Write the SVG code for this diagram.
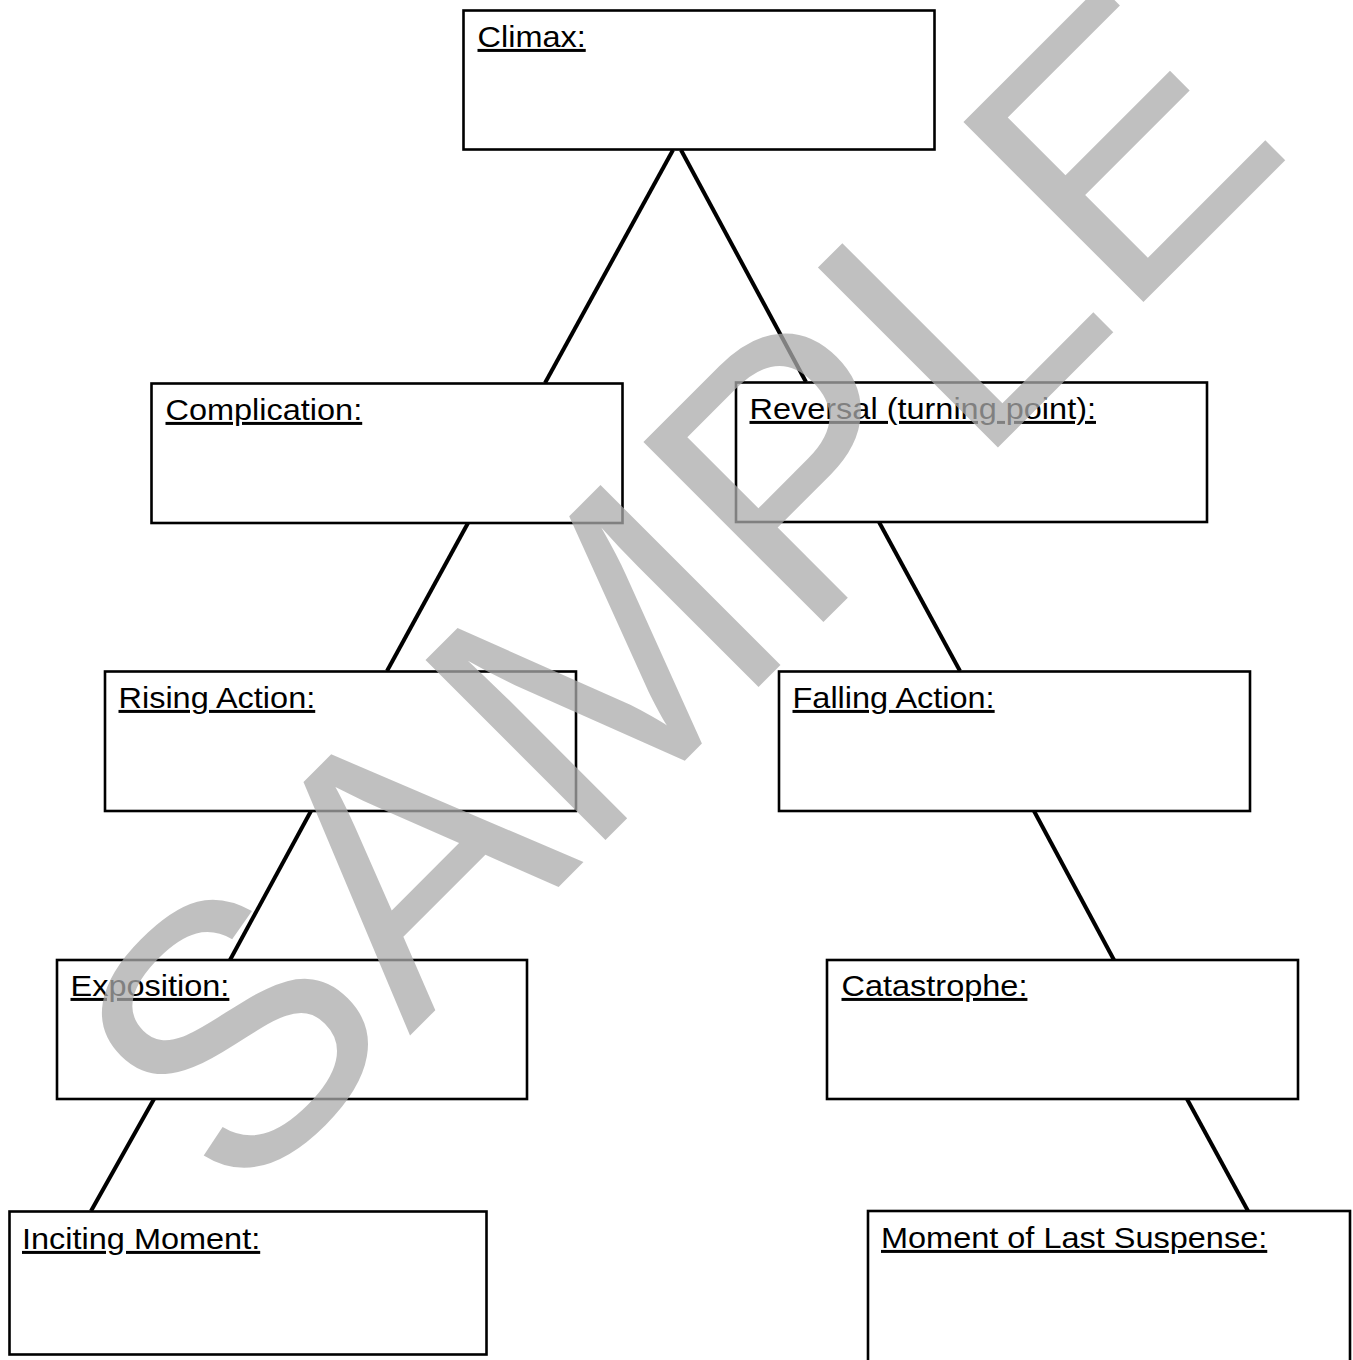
<svg xmlns="http://www.w3.org/2000/svg" width="1353" height="1360" viewBox="0 0 1353 1360">
<style>
.box rect{fill:#ffffff;stroke:#000000;stroke-width:2.6}
.box text{font-family:"Liberation Sans",Arial,sans-serif;font-size:30px;fill:#000000;text-decoration:underline;text-decoration-skip-ink:none}
#connectors line{stroke:#000000;stroke-width:4;stroke-linecap:butt}
.wm{font-family:"Liberation Sans",Arial,sans-serif;font-size:370px;fill:#ababab;fill-opacity:0.75}
</style>
<rect x="0" y="0" width="1353" height="1360" fill="#ffffff"/>
<g id="connectors">
<line x1="673" y1="150" x2="545" y2="383"/>
<line x1="681" y1="150" x2="806" y2="382"/>
<line x1="468" y1="523" x2="387" y2="671"/>
<line x1="879" y1="522" x2="960" y2="671"/>
<line x1="311" y1="811" x2="230" y2="960"/>
<line x1="1034" y1="811" x2="1114" y2="960"/>
<line x1="154" y1="1099" x2="91" y2="1211"/>
<line x1="1187" y1="1099" x2="1248" y2="1211"/>
</g>
<g id="climax" class="box"><rect x="463.5" y="10.5" width="471" height="139"/><text transform="matrix(1.083 0 0 1 477.5 47)">Climax:</text></g>
<g id="complication" class="box"><rect x="151.5" y="383.5" width="471" height="139.5"/><text transform="matrix(1.083 0 0 1 165.5 420)">Complication:</text></g>
<g id="reversal" class="box"><rect x="736" y="382.5" width="471" height="139.5"/><text transform="matrix(1.083 0 0 1 749.5 419)">Reversal (turning point):</text></g>
<g id="rising-action" class="box"><rect x="105" y="671.5" width="471" height="139.5"/><text transform="matrix(1.083 0 0 1 118.5 708)">Rising Action:</text></g>
<g id="falling-action" class="box"><rect x="779" y="671.5" width="471" height="139.5"/><text transform="matrix(1.083 0 0 1 792.5 708)">Falling Action:</text></g>
<g id="exposition" class="box"><rect x="57" y="960" width="470" height="139"/><text transform="matrix(1.083 0 0 1 70.5 996)">Exposition:</text></g>
<g id="catastrophe" class="box"><rect x="827" y="960" width="471" height="139"/><text transform="matrix(1.083 0 0 1 841.5 996)">Catastrophe:</text></g>
<g id="inciting-moment" class="box"><rect x="9.5" y="1211.5" width="477" height="143"/><text transform="matrix(1.083 0 0 1 22 1249)">Inciting Moment:</text></g>
<g id="last-suspense" class="box"><rect x="868" y="1211" width="482" height="160"/><text transform="matrix(1.083 0 0 1 881 1248)">Moment of Last Suspense:</text></g>
<text class="wm" transform="translate(235 1210.5) rotate(-45)" x="0" y="0">SAMPLE</text>
</svg>
